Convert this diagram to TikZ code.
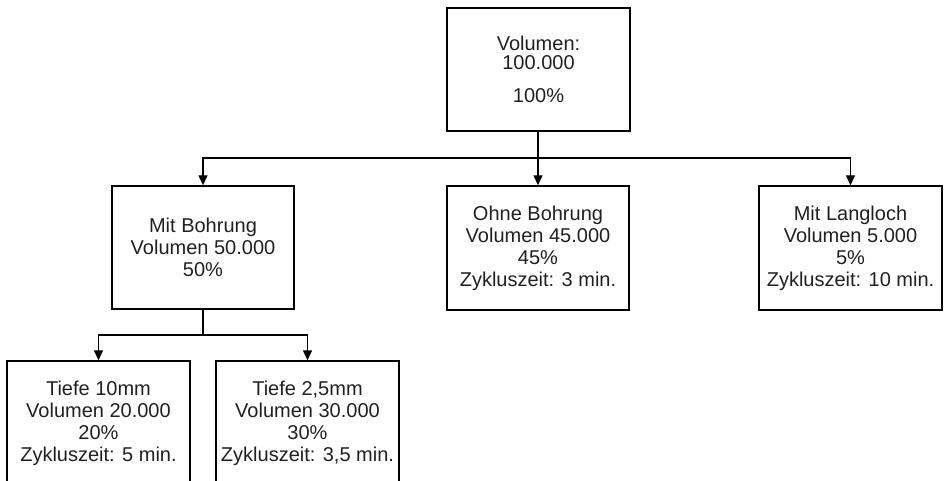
\documentclass[tikz,border=0pt]{standalone}
\usepackage{fontspec}
\setmainfont{Liberation Sans}
\usetikzlibrary{arrows.meta}
\definecolor{txt}{HTML}{231F20}
\begin{document}
\begin{tikzpicture}[x=1pt,y=-1pt,
  box/.style={draw=black, line width=1.4pt, minimum width=183pt, minimum height=123pt,
    inner sep=0pt, align=center, text=txt, font=\fontsize{20}{22}\selectfont},
  arr/.style={line width=1.4pt, -{Triangle[length=10pt,width=9pt]}},
  conn/.style={line width=1.4pt}]
\useasboundingbox (0,0) rectangle (945,481);
\clip (0,0) rectangle (945,481);
\node[box] (top) at (538.5,69.5) {Volumen:\\[-3pt]100.000\\[11pt]100\%};
\node[box, minimum width=182pt] (mb) at (203,247.5) {Mit Bohrung\\Volumen 50.000\\50\%};
\node[box, minimum width=182pt, minimum height=124pt] (ob) at (538,248) {Ohne Bohrung\\Volumen 45.000\\45\%\\Zykluszeit: 3 min.};
\node[box, minimum height=124pt] (ml) at (850.5,248) {Mit Langloch\\Volumen 5.000\\5\%\\Zykluszeit: 10 min.};
\node[box, minimum height=124pt] (t10) at (98.5,423) {Tiefe 10mm\\Volumen 20.000\\20\%\\Zykluszeit: 5 min.};
\node[box, minimum height=124pt] (t25) at (307.5,423) {Tiefe 2,5mm\\Volumen 30.000\\30\%\\Zykluszeit: 3,5 min.};
\coordinate (b1) at (538,158);
\coordinate (b2) at (203,335);
\draw[conn] (top.south -| b1) -- (b1);
\draw[arr] (b1) -| (mb.north);
\draw[arr] (b1) -- (ob.north);
\draw[arr] (b1) -| (ml.north);
\draw[conn] (mb.south) -- (b2);
\draw[arr] (b2) -| (t10.north);
\draw[arr] (b2) -| (t25.north);
\end{tikzpicture}
\end{document}
